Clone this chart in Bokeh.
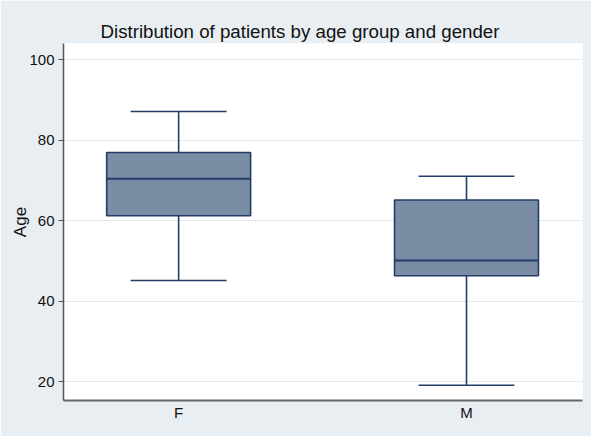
from bokeh.plotting import figure
from bokeh.models import FixedTicker, Range1d, ColumnDataSource
from bokeh.embed import file_html
from bokeh.resources import INLINE

groups = ["F", "M"]
lower = [45.1, 19.1]
q1 = [61.2, 46.3]
median = [70.4, 50.1]
q3 = [76.9, 65.1]
upper = [87.1, 71.0]
y_ticks = [20, 40, 60, 80, 100]

xpos = list(range(len(groups)))
box_w = 0.5
cap_w = 0.333

src = ColumnDataSource(dict(
    x=xpos,
    x0=[x - box_w / 2 for x in xpos],
    x1=[x + box_w / 2 for x in xpos],
    c0=[x - cap_w / 2 for x in xpos],
    c1=[x + cap_w / 2 for x in xpos],
    lower=lower, q1=q1, median=median, q3=q3, upper=upper,
))

BG = "#e8eef1"
LINE = "#233d6a"
FILL = "#7b8ca5"

p = figure(frame_width=519, frame_height=357, output_backend="svg", toolbar_location=None,
           x_range=Range1d(-0.4, 1.403), y_range=Range1d(15.3, 104.0),
           title="Distribution of patients by age group and gender",
           min_border_left=63, min_border_right=9, min_border_top=43, min_border_bottom=36)

p.background_fill_color = "white"
p.border_fill_color = BG
p.outline_line_color = None

p.title.text_font = "Liberation Sans"
p.title.text_font_size = "18.7px"
p.title.text_font_style = "normal"
p.title.text_color = "#111111"
p.title.align = "left"
p.title.offset = 37
p.title.standoff = 3

# whiskers
p.segment(x0="x", y0="q3", x1="x", y1="upper", source=src, line_color=LINE, line_width=1.6)
p.segment(x0="x", y0="q1", x1="x", y1="lower", source=src, line_color=LINE, line_width=1.6)
p.segment(x0="c0", y0="upper", x1="c1", y1="upper", source=src, line_color=LINE, line_width=1.6)
p.segment(x0="c0", y0="lower", x1="c1", y1="lower", source=src, line_color=LINE, line_width=1.6)
# boxes
p.quad(left="x0", right="x1", bottom="q1", top="q3", source=src,
       fill_color=FILL, line_color=LINE, line_width=1.6)
p.segment(x0="x0", y0="median", x1="x1", y1="median", source=src, line_color=LINE, line_width=2)

p.xgrid.visible = False
p.ygrid.grid_line_color = "#e3ebef"
p.ygrid.grid_line_width = 1
p.ygrid.ticker = FixedTicker(ticks=y_ticks)

p.yaxis.ticker = FixedTicker(ticks=y_ticks)
p.yaxis.axis_label = "Age"
p.yaxis.axis_label_text_font = "Liberation Sans"
p.yaxis.axis_label_text_font_size = "17px"
p.yaxis.axis_label_text_font_style = "normal"
p.yaxis.axis_label_text_color = "#111111"
p.yaxis.axis_label_standoff = -4
p.yaxis.major_label_text_font = "Liberation Sans"
p.yaxis.major_label_text_font_size = "15px"
p.yaxis.major_label_text_color = "#111111"
p.yaxis.major_label_standoff = 4
p.yaxis.major_tick_out = 5
p.yaxis.major_tick_in = 0
p.yaxis.minor_tick_line_color = None
p.yaxis.major_tick_line_color = "#555555"
p.yaxis.axis_line_color = "#555555"
p.yaxis.axis_line_width = 1.5

p.xaxis.ticker = FixedTicker(ticks=xpos)
p.xaxis.major_label_overrides = {i: g for i, g in enumerate(groups)}
p.xaxis.major_label_text_font = "Liberation Sans"
p.xaxis.major_label_text_font_size = "15px"
p.xaxis.major_label_text_color = "#111111"
p.xaxis.major_label_standoff = -3
p.xaxis.major_tick_line_color = None
p.xaxis.minor_tick_line_color = None
p.xaxis.axis_line_color = "#666666"
p.xaxis.axis_line_width = 2

open("out.html", "w").write(file_html(p, INLINE))
